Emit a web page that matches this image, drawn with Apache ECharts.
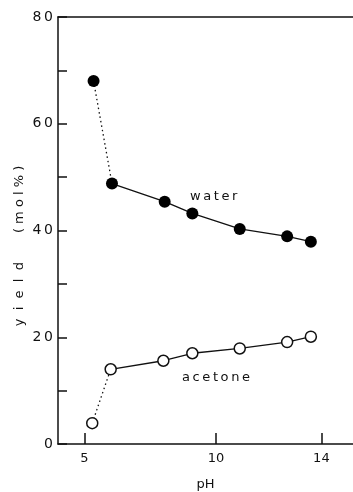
<!DOCTYPE html>
<html><head><meta charset="utf-8">
<script src="https://cdn.jsdelivr.net/npm/echarts@6/dist/echarts.min.js"></script>
<style>html,body{margin:0;padding:0;background:#fff}#c{width:353px;height:492px}</style>
</head><body><div id="c"></div>
<script>
const waterPH = [5.35, 6.05, 8.05, 9.1, 10.9, 12.7, 13.6];
const waterYield = [68, 48.8, 45.4, 43.2, 40.3, 38.9, 37.9];
const acetonePH = [5.3, 6.0, 8.0, 9.1, 10.9, 12.7, 13.6];
const acetoneYield = [3.9, 14.0, 15.6, 17.0, 17.9, 19.1, 20.1];
const xTicks = [5, 10, 14];
const yLabels = [0, 20, 40, 60, 80];

const pts = (xs, ys) => xs.map((x, i) => [x, ys[i]]);
const water = pts(waterPH, waterYield);
const acetone = pts(acetonePH, acetoneYield);
const font = 'DejaVu Sans';
const ink = '#111';
const sp = s => s.split('').join('\u2009');

const chart = echarts.init(document.getElementById('c'), null, {renderer: 'canvas'});
chart.setOption({
  animation: false,
  backgroundColor: '#fff',
  grid: {left: 58, right: 0, top: 17, bottom: 48, outerBoundsMode: 'none', containLabel: false},
  xAxis: [{
    type: 'value', min: 4, max: 15.2, position: 'bottom',
    axisLine: {show: true, onZero: false, lineStyle: {color: ink, width: 1.5}},
    axisTick: {show: true, inside: true, length: 11, customValues: xTicks, lineStyle: {color: ink, width: 1.5}},
    axisLabel: {customValues: xTicks, color: ink, fontFamily: font, fontSize: 13, margin: 8},
    splitLine: {show: false},
    name: 'pH', nameLocation: 'middle', nameGap: 34,
    nameTextStyle: {color: ink, fontFamily: font, fontSize: 13}
  }, {
    type: 'value', min: 4, max: 15.2, position: 'top',
    axisLine: {show: true, onZero: false, lineStyle: {color: ink, width: 1.5}},
    axisTick: {show: false}, axisLabel: {show: false}, splitLine: {show: false}
  }],
  yAxis: {
    type: 'value', min: 0, max: 80, interval: 10,
    axisLine: {show: true, onZero: false, lineStyle: {color: ink, width: 1.5}},
    axisTick: {show: true, inside: true, length: 9, lineStyle: {color: ink, width: 1.5}},
    axisLabel: {color: ink, fontFamily: font, fontSize: 14, margin: 5,
      formatter: v => yLabels.includes(v) ? sp(String(v)) : ''},
    splitLine: {show: false}
  },
  series: [
    {type: 'line', data: water.slice(0, 2), symbol: 'none', lineStyle: {color: ink, width: 1.3, type: [1.5, 3]}, z: 1},
    {type: 'line', data: water.slice(1), symbol: 'none', lineStyle: {color: ink, width: 1.3}, z: 1},
    {type: 'scatter', data: water, symbol: 'circle', symbolSize: 12, itemStyle: {color: '#000', opacity: 1, borderWidth: 0}, z: 3},
    {type: 'line', data: acetone.slice(0, 2), symbol: 'none', lineStyle: {color: ink, width: 1.3, type: [1.5, 3]}, z: 1},
    {type: 'line', data: acetone.slice(1), symbol: 'none', lineStyle: {color: ink, width: 1.3}, z: 1},
    {type: 'scatter', data: acetone, symbol: 'circle', symbolSize: 11, itemStyle: {color: '#fff', opacity: 1, borderColor: ink, borderWidth: 1.5}, z: 3}
  ],
  graphic: [
    {type: 'text', x: 20, y: 246, rotation: Math.PI / 2,
      style: {text: 'y  i  e  l  d       ( m o l % )', fill: ink, font: '13px "DejaVu Sans"', align: 'center', verticalAlign: 'middle'}},
    {type: 'text', left: 190, top: 190, style: {text: sp('water'), fill: ink, font: '13px "DejaVu Sans"'}},
    {type: 'text', left: 182, top: 371, style: {text: sp('acetone'), fill: ink, font: '13px "DejaVu Sans"'}}
  ]
});
</script></body></html>
